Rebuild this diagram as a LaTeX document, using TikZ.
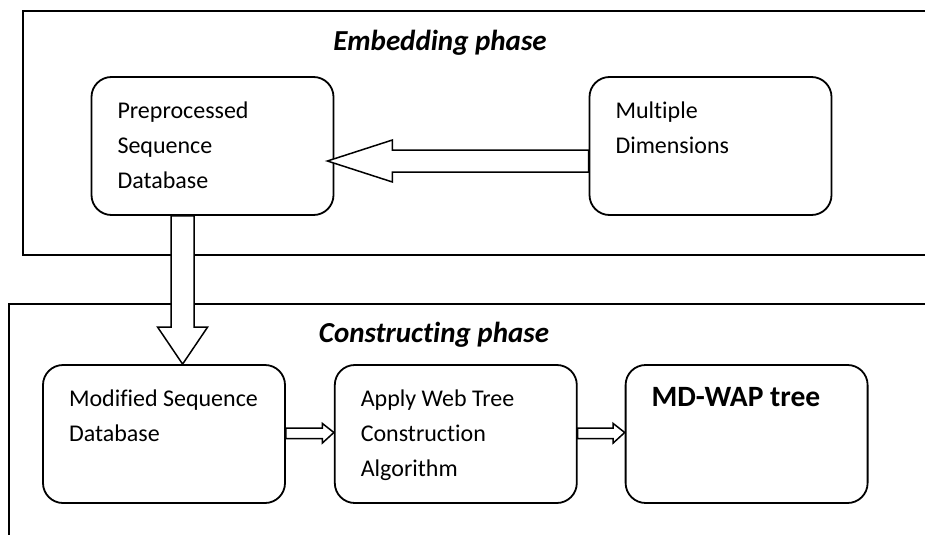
\documentclass[tikz,border=0pt]{standalone}
\usepackage{fontspec}
\setmainfont{Carlito}[Ligatures={NoCommon}]
\usepackage{tikz}
\usetikzlibrary{calc,positioning}

% text inside a stage box: top aligned, first baseline 41pt down
\newcommand{\boxtext}[1]{\parbox[t][138pt][t]{242pt}{\raggedright\leftskip=26pt\baselineskip=35pt\rule{0pt}{41pt}#1}}

\begin{document}
\begin{tikzpicture}[x=1pt,y=-1pt]

\useasboundingbox (0,0) rectangle (925,535);

\tikzstyle{stagebox} = [draw, line width=1.8pt, rectangle, rounded corners=20pt, inner sep=0pt, minimum width=242pt, minimum height=138pt, font=\fontsize{24pt}{35pt}\selectfont]
\tikzstyle{phase} = [font=\fontsize{29pt}{32pt}\selectfont\bfseries\itshape]
\tikzstyle{hollow} = [draw, fill=white, line width=1.5pt, line join=miter]

% the two phase panels, open on the right
\draw[line width=1.8pt] (925,11) -- (23,11) -- (23,255) -- (925,255);
\draw[line width=1.8pt] (925,304) -- (9,304) -- (9,535);

\node (embed) [phase] at (440,43) {Embedding phase};
\node (construct) [phase] at (434,335) {Constructing phase};

\node (prepbox) [stagebox] at (212.5,146) {\boxtext{Preprocessed\\Sequence\\Database}};
\node (multibox) [stagebox] at (710.5,146) {\boxtext{Multiple\\Dimensions}};

\node (modbox) [stagebox] at (164,434) {\boxtext{Modified Sequence\\Database}};
\node (applybox) [stagebox,right=48pt of modbox] {\boxtext{Apply Web Tree\\Construction\\Algorithm}};
\node (mdwapbox) [stagebox,right=47pt of applybox] {\boxtext{\fontsize{29.5pt}{35pt}\selectfont\bfseries MD-WAP tree}};

% block arrows
\coordinate (ltip) at ($(prepbox.east)+(-7,15)$);
\draw[hollow] (ltip) -- ++(65,-21) -- ++(0,10) -- ($(ltip -| multibox.west)+(0,-11)$)
  -- ($(ltip -| multibox.west)+(0,11)$) -- ($(ltip)+(65,11)$) -- ++(0,10) -- cycle;

\coordinate (dtip) at ($(modbox.north west)+(140.5,0)$);
\draw[hollow] ($(dtip |- prepbox.south)+(-11.5,0)$) |- ($(dtip)+(-25,-37)$) -- (dtip)
  -- ($(dtip)+(25,-37)$) -| ($(dtip |- prepbox.south)+(11.5,0)$) -- cycle;

\foreach \a/\b in {modbox/applybox,applybox/mdwapbox}
  \draw[hollow] ($(\a.east)+(0,-6)$) -- ($(\b.west)+(-11.5,-6)$) -- ++(0,-4.5) -- ($(\b.west)+(0,-1.5)$)
    -- ($(\b.west)+(-11.5,9)$) -- ++(0,-4.5) -- ($(\a.east)+(0,4.5)$) -- cycle;

\end{tikzpicture}
\end{document}
